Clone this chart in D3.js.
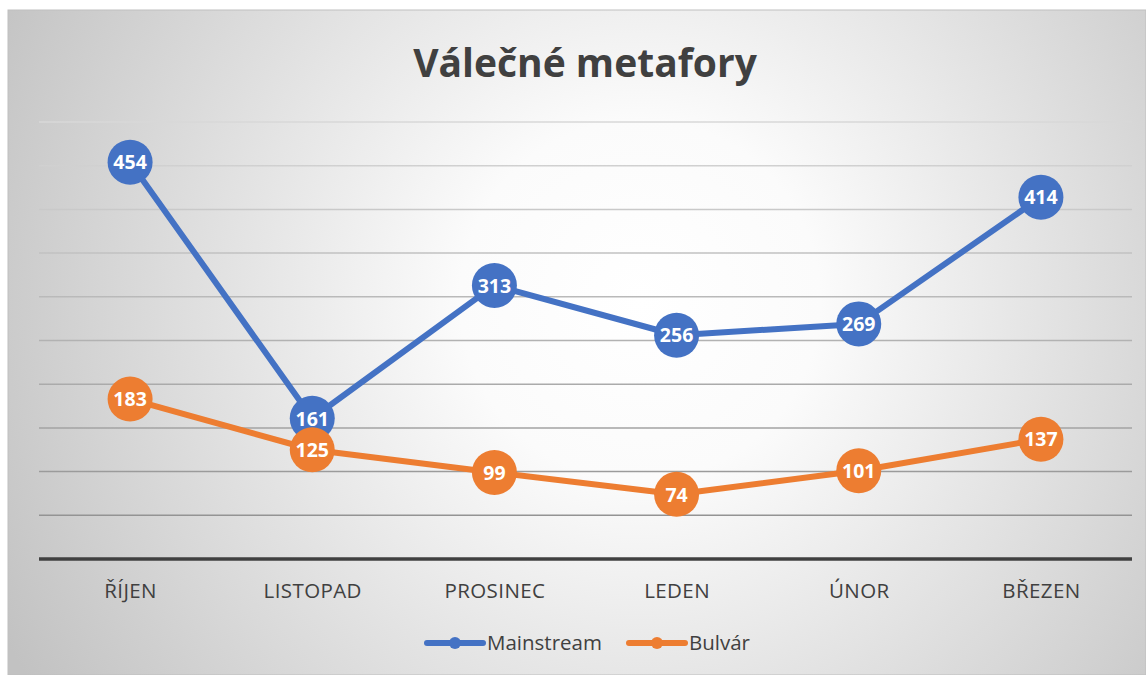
<!DOCTYPE html>
<html>
<head>
<meta charset="utf-8">
<script src="https://cdn.jsdelivr.net/npm/d3@7"></script>
<style>
  body { margin: 0; background: #fff; }
  svg { display: block; }
</style>
</head>
<body>
<div id="chart"></div>
<script>
(function () {

  var months = ["ŘÍJEN", "LISTOPAD", "PROSINEC", "LEDEN", "ÚNOR", "BŘEZEN"],
    mainstream = [454, 161, 313, 256, 269, 414],
    bulvar = [183, 125, 99, 74, 101, 137],
    seriesNames = ["Mainstream", "Bulvár"],
    yTicks = [0, 50, 100, 150, 200, 250, 300, 350, 400, 450, 500],
    // Office palette
    colors = ["#4472C4", "#ED7D31"],
    w = 1146,
    h = 675,
    plot = { left: 39, right: 1132, top: 122, bottom: 559 },
    svg, x, y;

  function createSvg() {
    svg = d3.select("#chart").append("svg")
      .attr("width", w)
      .attr("height", h);

    var defs = svg.append("defs");
    // soft radial background, white in the middle, gray at the corners
    var bg = defs.append("radialGradient")
      .attr("id", "bg")
      .attr("gradientUnits", "userSpaceOnUse")
      .attr("cx", 640).attr("cy", 300).attr("r", 720);
    bg.append("stop").attr("offset", "0%").attr("stop-color", "#ffffff");
    bg.append("stop").attr("offset", "25%").attr("stop-color", "#fbfbfb");
    bg.append("stop").attr("offset", "100%").attr("stop-color", "#c2c2c2");

    // gridlines get darker towards the bottom
    var gg = defs.append("linearGradient")
      .attr("id", "grid")
      .attr("gradientUnits", "userSpaceOnUse")
      .attr("x1", 0).attr("y1", plot.top).attr("x2", 0).attr("y2", plot.bottom);
    gg.append("stop").attr("offset", "0%").attr("stop-color", "#d8d8d8");
    gg.append("stop").attr("offset", "100%").attr("stop-color", "#8c8c8c");

    svg.append("rect")
      .attr("x", 8).attr("y", 10)
      .attr("width", w - 8).attr("height", h - 10)
      .attr("fill", "url(#bg)")
      .attr("stroke", "#bfbfbf")
      .attr("stroke-width", 1);
  }

  function getScales() {
    x = d3.scalePoint()
      .domain(months)
      .range([plot.left, plot.right])
      .padding(0.5);
    y = d3.scaleLinear()
      .domain([0, 500])
      .range([plot.bottom, plot.top]);
  }

  function drawGrid() {
    svg.append("g").selectAll("line")
      .data(yTicks.filter(function (d) { return d > 0; }))
      .enter().append("line")
        .attr("x1", plot.left).attr("x2", plot.right)
        .attr("y1", function (d) { return y(d); })
        .attr("y2", function (d) { return y(d); })
        .attr("stroke", "url(#grid)")
        .attr("stroke-width", 1.5);

    // x axis, baseline only
    var xAxis = svg.append("g")
      .attr("transform", "translate(0," + plot.bottom + ")")
      .call(d3.axisBottom(x).tickSize(0).tickPadding(24));
    xAxis.select(".domain")
      .attr("d", "M" + plot.left + ",0H" + plot.right)
      .attr("stroke", "#404040")
      .attr("stroke-width", 3.5);
    xAxis.selectAll("text")
      .attr("fill", "#404040")
      .style("font-family", "'Open Sans', sans-serif")
      .style("font-size", "20.5px")
      .style("letter-spacing", "0.4px");
  }

  function drawSeries(values, i) {
    var line = d3.line()
      .x(function (d, j) { return x(months[j]); })
      .y(function (d) { return y(d); });

    var g = svg.append("g");
    g.append("path")
      .datum(values)
      .attr("d", line)
      .attr("fill", "none")
      .attr("stroke", colors[i])
      .attr("stroke-width", 6)
      .attr("stroke-linejoin", "round");

    var pts = g.selectAll(".pt")
      .data(values).enter()
      .append("g")
        .attr("transform", function (d, j) { return "translate(" + x(months[j]) + "," + y(d) + ")"; });
    pts.append("circle")
      .attr("r", 22.5)
      .attr("fill", colors[i]);
    pts.append("text")
      .text(function (d) { return d; })
      .attr("text-anchor", "middle")
      .attr("dy", "0.37em")
      .attr("fill", "#fff")
      .style("font-family", "'Open Sans', sans-serif")
      .style("font-weight", "bold")
      .style("font-size", "19.5px");
  }

  function drawTitle() {
    svg.append("text")
      .text("Válečné metafory")
      .attr("x", 585)
      .attr("y", 77)
      .attr("text-anchor", "middle")
      .attr("fill", "#404040")
      .style("font-family", "'Open Sans', sans-serif")
      .style("font-weight", "bold")
      .style("font-size", "39px");
  }

  function drawLegend() {
    var items = [{ x: 427 }, { x: 629 }];
    var lg = svg.append("g").selectAll("g")
      .data(seriesNames).enter()
      .append("g")
        .attr("transform", function (d, i) { return "translate(" + items[i].x + ",643)"; });
    lg.append("line")
      .attr("x1", 0).attr("x2", 56)
      .attr("stroke", function (d, i) { return colors[i]; })
      .attr("stroke-width", 6)
      .attr("stroke-linecap", "round");
    lg.append("circle")
      .attr("cx", 28).attr("r", 6)
      .attr("fill", function (d, i) { return colors[i]; });
    lg.append("text")
      .text(function (d) { return d; })
      .attr("x", 60)
      .attr("dy", "0.35em")
      .attr("fill", "#404040")
      .style("font-family", "'Open Sans', sans-serif")
      .style("font-size", "20.5px");
  }

  createSvg();
  getScales();
  drawGrid();
  drawSeries(mainstream, 0);
  drawSeries(bulvar, 1);
  drawTitle();
  drawLegend();
})();
</script>
</body>
</html>
